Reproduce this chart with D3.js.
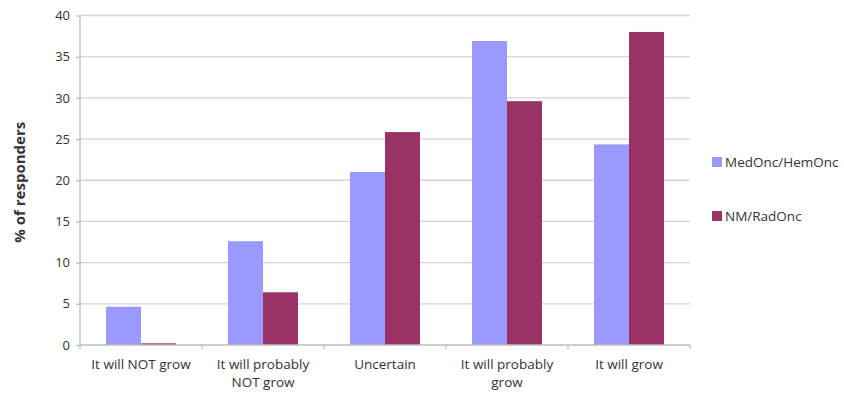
<!DOCTYPE html>
<html>
<head>
<meta charset="utf-8">
<script src="https://cdn.jsdelivr.net/npm/d3@7"></script>
<style>
  body { margin: 0; background: #fff; }
  text { font-family: "Open Sans", "DejaVu Sans", sans-serif; fill: #333; }
</style>
</head>
<body>
<div id="chart"></div>
<script>
var categories = [["It will NOT grow"], ["It will probably", "NOT grow"], ["Uncertain"], ["It will probably", "grow"], ["It will grow"]];
var seriesNames = ["MedOnc/HemOnc", "NM/RadOnc"];
var medOnc = [4.65, 12.6, 21.0, 36.9, 24.35];
var nmRadOnc = [0.2, 6.4, 25.85, 29.6, 38.0];
var yTicks = [0, 5, 10, 15, 20, 25, 30, 35, 40];
var colors = ["#9999ff", "#993366"];

var W = 844, H = 397;
var margin = { top: 15.5, right: 154, bottom: 52, left: 80 };
var width = W - margin.left - margin.right;
var height = H - margin.top - margin.bottom;

var svg = d3.select("#chart").append("svg")
    .attr("width", W)
    .attr("height", H);

var g = svg.append("g")
    .attr("transform", "translate(" + margin.left + "," + margin.top + ")");

var keys = categories.map(function (d, i) { return i; });

var x0 = d3.scaleBand().domain(keys).range([0, width]).paddingInner(0).paddingOuter(0);
var x1 = d3.scaleBand().domain([0, 1]).range([26, x0.bandwidth() - 26]);
var y = d3.scaleLinear().domain([0, 40]).range([height, 0]);

// gridlines
g.append("g")
    .selectAll("line")
    .data(yTicks.slice(1))
    .enter().append("line")
    .attr("x1", 0)
    .attr("x2", width)
    .attr("y1", function (d) { return y(d); })
    .attr("y2", function (d) { return y(d); })
    .attr("stroke", "#d4d4d4")
    .attr("stroke-width", 1.3);

// bars
var data = keys.map(function (i) { return [medOnc[i], nmRadOnc[i]]; });
g.append("g")
    .selectAll("g")
    .data(data)
    .enter().append("g")
    .attr("transform", function (d, i) { return "translate(" + x0(i) + ",0)"; })
    .selectAll("rect")
    .data(function (d) { return d.map(function (v, k) { return { k: k, v: v }; }); })
    .enter().append("rect")
    .attr("x", function (d) { return x1(d.k); })
    .attr("y", function (d) { return y(d.v); })
    .attr("width", x1.bandwidth())
    .attr("height", function (d) { return height - y(d.v); })
    .attr("fill", function (d) { return colors[d.k]; });

// y axis
var yAxis = g.append("g")
    .call(d3.axisLeft(y).tickValues(yTicks).tickSize(4).tickPadding(6));
yAxis.selectAll("path, line").attr("stroke", "#bdbdbd").attr("stroke-width", 1.3);
yAxis.select(".domain").attr("d", "M0," + height + "V0");
yAxis.selectAll("text")
    .style("font-family", "'Open Sans', sans-serif")
    .style("font-size", "13px")
    .attr("fill", "#404040");

// x axis
var xAxis = g.append("g")
    .attr("transform", "translate(0," + height + ")");
xAxis.append("line")
    .attr("x1", 0).attr("x2", width)
    .attr("stroke", "#bdbdbd").attr("stroke-width", 1.3);
xAxis.selectAll(".xt")
    .data(d3.range(categories.length + 1))
    .enter().append("line")
    .attr("x1", function (d) { return d * x0.bandwidth(); })
    .attr("x2", function (d) { return d * x0.bandwidth(); })
    .attr("y1", 0).attr("y2", 4)
    .attr("stroke", "#bdbdbd").attr("stroke-width", 1.3);
xAxis.selectAll(".xl")
    .data(categories)
    .enter().append("text")
    .attr("text-anchor", "middle")
    .attr("x", function (d, i) { return x0(i) + x0.bandwidth() / 2; })
    .attr("y", 24)
    .style("font-size", "13.5px")
    .attr("fill", "#404040")
    .each(function (d) {
        var t = d3.select(this);
        d.forEach(function (line, j) {
            t.append("tspan")
                .attr("x", t.attr("x"))
                .attr("dy", j === 0 ? 0 : 18)
                .text(line);
        });
    });

// y axis title
svg.append("text")
    .attr("transform", "translate(25," + (margin.top + height / 2 + 2) + ") rotate(-90)")
    .attr("text-anchor", "middle")
    .style("font-size", "15px")
    .style("font-weight", "bold")
    .attr("fill", "#222")
    .text("% of responders");

// legend
var legend = svg.append("g")
    .selectAll("g")
    .data(seriesNames)
    .enter().append("g")
    .attr("transform", function (d, i) { return "translate(712," + (157 + i * 54) + ")"; });
legend.append("rect")
    .attr("width", 10)
    .attr("height", 10)
    .attr("fill", function (d, i) { return colors[i]; });
legend.append("text")
    .attr("x", 13)
    .attr("y", 5)
    .attr("dy", "0.36em")
    .style("font-size", "13.5px")
    .attr("fill", "#404040")
    .text(function (d) { return d; });
</script>
</body>
</html>
